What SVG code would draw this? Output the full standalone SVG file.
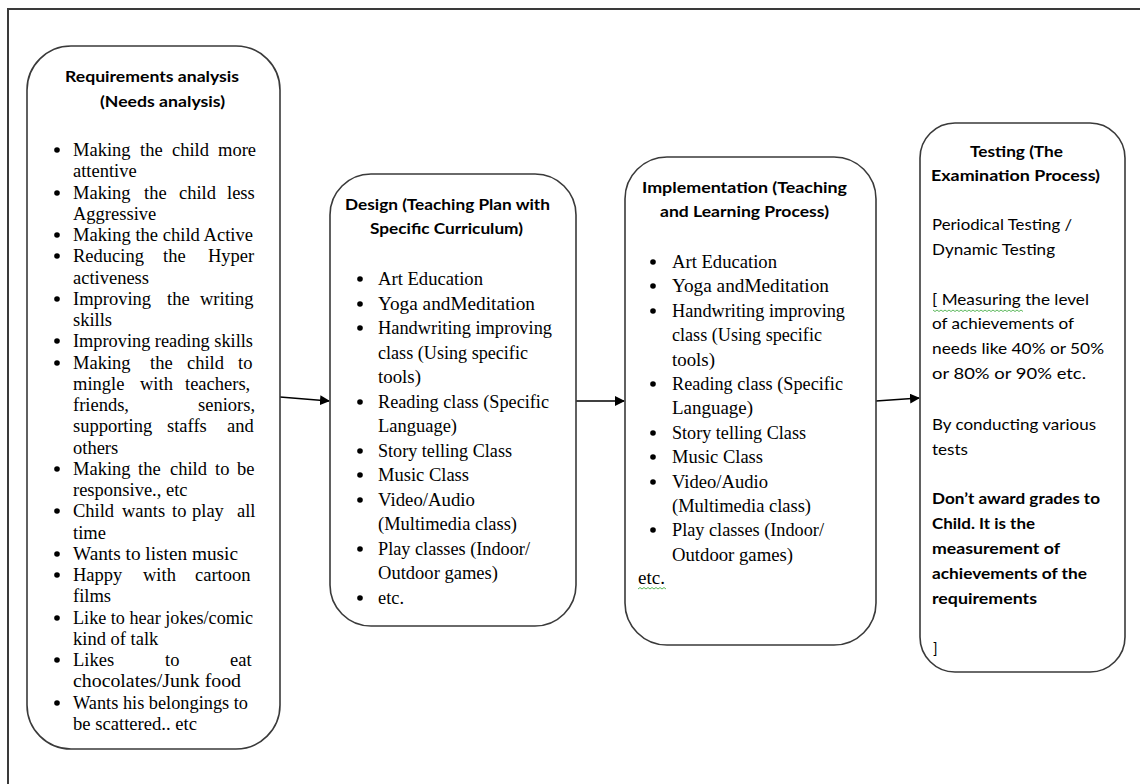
<svg xmlns="http://www.w3.org/2000/svg" width="1140" height="784" viewBox="0 0 1140 784">
<style>
.box{fill:#fff;stroke:#3a3a3a;stroke-width:1.6}
.hd{font-family:Lato,"Liberation Sans",sans-serif;font-weight:bold;font-size:15px;fill:#000}
.cb{font-family:Lato,"Liberation Sans",sans-serif;font-size:15px;fill:#000}
.cbb{font-family:Lato,"Liberation Sans",sans-serif;font-weight:bold;font-size:15px;fill:#000}
.tm{font-family:"Liberation Serif","Times New Roman",serif;font-size:18.5px;fill:#000}
.bl{fill:#000}
.conn{stroke:#000;stroke-width:1.6;fill:none}
.wavy{stroke:#5cb85c;stroke-width:1;fill:none}
</style>
<defs>
<marker id="ah" markerWidth="10" markerHeight="10" refX="9" refY="5" orient="auto" markerUnits="userSpaceOnUse" viewBox="0 0 10 10">
<path d="M0,0 L10,5 L0,10 Z" fill="#000"/>
</marker>
</defs>
<rect width="1140" height="784" fill="#fff"/>
<rect x="8" y="9" width="1150" height="800" fill="none" stroke="#3a3a3a" stroke-width="2"/>

<g id="connectors">
<line class="conn" x1="280" y1="397" x2="329" y2="401" marker-end="url(#ah)"/>
<line class="conn" x1="576" y1="401" x2="624" y2="401" marker-end="url(#ah)"/>
<line class="conn" x1="876" y1="401" x2="919" y2="398" marker-end="url(#ah)"/>
</g>

<g id="node-requirements">
<rect class="box" x="27" y="46" width="253" height="703" rx="44" ry="44"/>
<text class="hd" x="65" y="82" textLength="174" lengthAdjust="spacingAndGlyphs">Requirements analysis</text>
<text class="hd" x="100" y="107" textLength="125" lengthAdjust="spacingAndGlyphs">(Needs analysis)</text>
<g class="bl">
<circle cx="57" cy="150" r="2.8"/><circle cx="57" cy="193" r="2.8"/><circle cx="57" cy="235" r="2.8"/>
<circle cx="57" cy="256" r="2.8"/><circle cx="57" cy="299" r="2.8"/><circle cx="57" cy="341" r="2.8"/>
<circle cx="57" cy="363" r="2.8"/><circle cx="57" cy="469" r="2.8"/><circle cx="57" cy="511" r="2.8"/>
<circle cx="57" cy="554" r="2.8"/><circle cx="57" cy="575" r="2.8"/><circle cx="57" cy="618" r="2.8"/>
<circle cx="57" cy="660" r="2.8"/><circle cx="57" cy="703" r="2.8"/>
</g>
<text class="tm" y="156"><tspan x="73">Making</tspan><tspan x="140">the</tspan><tspan x="172">child</tspan><tspan x="218">more</tspan></text>
<text class="tm" x="73" y="177">attentive</text>
<text class="tm" y="199"><tspan x="73">Making</tspan><tspan x="144">the</tspan><tspan x="179">child</tspan><tspan x="227">less</tspan></text>
<text class="tm" x="73" y="220">Aggressive</text>
<text class="tm" x="73" y="241" textLength="180" lengthAdjust="spacingAndGlyphs">Making the child Active</text>
<text class="tm" y="262"><tspan x="73">Reducing</tspan><tspan x="163">the</tspan><tspan x="208">Hyper</tspan></text>
<text class="tm" x="73" y="284">activeness</text>
<text class="tm" y="305"><tspan x="73">Improving</tspan><tspan x="167">the</tspan><tspan x="200">writing</tspan></text>
<text class="tm" x="73" y="326">skills</text>
<text class="tm" x="73" y="347" textLength="180" lengthAdjust="spacingAndGlyphs">Improving reading skills</text>
<text class="tm" y="369"><tspan x="73">Making</tspan><tspan x="150">the</tspan><tspan x="187">child</tspan><tspan x="238">to</tspan></text>
<text class="tm" y="390"><tspan x="73">mingle</tspan><tspan x="140">with</tspan><tspan x="185">teachers,</tspan></text>
<text class="tm" y="411"><tspan x="73">friends,</tspan><tspan x="198">seniors,</tspan></text>
<text class="tm" y="432"><tspan x="73">supporting</tspan><tspan x="167">staffs</tspan><tspan x="227">and</tspan></text>
<text class="tm" x="73" y="454">others</text>
<text class="tm" y="475"><tspan x="73">Making</tspan><tspan x="138">the</tspan><tspan x="170">child</tspan><tspan x="215">to</tspan><tspan x="237">be</tspan></text>
<text class="tm" x="73" y="496">responsive., etc</text>
<text class="tm" y="517"><tspan x="73">Child</tspan><tspan x="122">wants</tspan><tspan x="172">to</tspan><tspan x="192">play</tspan><tspan x="237">all</tspan></text>
<text class="tm" x="73" y="539">time</text>
<text class="tm" x="73" y="560" textLength="165" lengthAdjust="spacingAndGlyphs">Wants to listen music</text>
<text class="tm" y="581"><tspan x="73">Happy</tspan><tspan x="143">with</tspan><tspan x="195">cartoon</tspan></text>
<text class="tm" x="73" y="602">films</text>
<text class="tm" x="73" y="624" textLength="180" lengthAdjust="spacingAndGlyphs">Like to hear jokes/comic</text>
<text class="tm" x="73" y="645">kind of talk</text>
<text class="tm" y="666"><tspan x="73">Likes</tspan><tspan x="165">to</tspan><tspan x="230">eat</tspan></text>
<text class="tm" x="73" y="687" textLength="168" lengthAdjust="spacingAndGlyphs">chocolates/Junk food</text>
<text class="tm" x="73" y="709" textLength="175" lengthAdjust="spacingAndGlyphs">Wants his belongings to</text>
<text class="tm" x="73" y="730" textLength="124" lengthAdjust="spacingAndGlyphs">be scattered.. etc</text>
</g>

<g id="node-design">
<rect class="box" x="330" y="174" width="246" height="452" rx="41" ry="41"/>
<text class="hd" x="345" y="210" textLength="205" lengthAdjust="spacingAndGlyphs">Design (Teaching Plan with</text>
<text class="hd" x="370" y="234" textLength="153" lengthAdjust="spacingAndGlyphs">Specific Curriculum)</text>
<g class="bl">
<circle cx="360" cy="279" r="2.8"/><circle cx="360" cy="304" r="2.8"/><circle cx="360" cy="328" r="2.8"/>
<circle cx="360" cy="402" r="2.8"/><circle cx="360" cy="451" r="2.8"/><circle cx="360" cy="475" r="2.8"/>
<circle cx="360" cy="500" r="2.8"/><circle cx="360" cy="549" r="2.8"/><circle cx="360" cy="598" r="2.8"/>
</g>
<text class="tm" x="378" y="285" textLength="105" lengthAdjust="spacingAndGlyphs">Art Education</text>
<text class="tm" x="378" y="310" textLength="157" lengthAdjust="spacingAndGlyphs">Yoga andMeditation</text>
<text class="tm" x="378" y="334" textLength="174" lengthAdjust="spacingAndGlyphs">Handwriting improving</text>
<text class="tm" x="378" y="359" textLength="150" lengthAdjust="spacingAndGlyphs">class (Using specific</text>
<text class="tm" x="378" y="383" textLength="43" lengthAdjust="spacingAndGlyphs">tools)</text>
<text class="tm" x="378" y="408" textLength="171" lengthAdjust="spacingAndGlyphs">Reading class (Specific</text>
<text class="tm" x="378" y="432" textLength="79" lengthAdjust="spacingAndGlyphs">Language)</text>
<text class="tm" x="378" y="457" textLength="134" lengthAdjust="spacingAndGlyphs">Story telling Class</text>
<text class="tm" x="378" y="481" textLength="91" lengthAdjust="spacingAndGlyphs">Music Class</text>
<text class="tm" x="378" y="506" textLength="97" lengthAdjust="spacingAndGlyphs">Video/Audio</text>
<text class="tm" x="378" y="530" textLength="139" lengthAdjust="spacingAndGlyphs">(Multimedia class)</text>
<text class="tm" x="378" y="555" textLength="152" lengthAdjust="spacingAndGlyphs">Play classes (Indoor/</text>
<text class="tm" x="378" y="579" textLength="120" lengthAdjust="spacingAndGlyphs">Outdoor games)</text>
<text class="tm" x="378" y="604" textLength="26" lengthAdjust="spacingAndGlyphs">etc.</text>
</g>

<g id="node-implementation">
<rect class="box" x="625" y="157" width="251" height="488" rx="42" ry="42"/>
<text class="hd" x="642" y="193" textLength="205" lengthAdjust="spacingAndGlyphs">Implementation (Teaching</text>
<text class="hd" x="660" y="217" textLength="169" lengthAdjust="spacingAndGlyphs">and Learning Process)</text>
<g class="bl">
<circle cx="653" cy="262" r="2.8"/><circle cx="653" cy="286" r="2.8"/><circle cx="653" cy="311" r="2.8"/>
<circle cx="653" cy="384" r="2.8"/><circle cx="653" cy="433" r="2.8"/><circle cx="653" cy="457" r="2.8"/>
<circle cx="653" cy="482" r="2.8"/><circle cx="653" cy="530" r="2.8"/>
</g>
<text class="tm" x="672" y="268" textLength="105" lengthAdjust="spacingAndGlyphs">Art Education</text>
<text class="tm" x="672" y="292" textLength="157" lengthAdjust="spacingAndGlyphs">Yoga andMeditation</text>
<text class="tm" x="672" y="317" textLength="173" lengthAdjust="spacingAndGlyphs">Handwriting improving</text>
<text class="tm" x="672" y="341" textLength="150" lengthAdjust="spacingAndGlyphs">class (Using specific</text>
<text class="tm" x="672" y="366" textLength="43" lengthAdjust="spacingAndGlyphs">tools)</text>
<text class="tm" x="672" y="390" textLength="171" lengthAdjust="spacingAndGlyphs">Reading class (Specific</text>
<text class="tm" x="672" y="414" textLength="81" lengthAdjust="spacingAndGlyphs">Language)</text>
<text class="tm" x="672" y="439" textLength="134" lengthAdjust="spacingAndGlyphs">Story telling Class</text>
<text class="tm" x="672" y="463" textLength="91" lengthAdjust="spacingAndGlyphs">Music Class</text>
<text class="tm" x="672" y="488" textLength="96" lengthAdjust="spacingAndGlyphs">Video/Audio</text>
<text class="tm" x="672" y="512" textLength="139" lengthAdjust="spacingAndGlyphs">(Multimedia class)</text>
<text class="tm" x="672" y="536" textLength="152" lengthAdjust="spacingAndGlyphs">Play classes (Indoor/</text>
<text class="tm" x="672" y="561" textLength="121" lengthAdjust="spacingAndGlyphs">Outdoor games)</text>
<text class="tm" x="638" y="584" textLength="27" lengthAdjust="spacingAndGlyphs">etc.</text>
<path class="wavy" d="M638,589 l2,-1.5 l2,1.5 l2,-1.5 l2,1.5 l2,-1.5 l2,1.5 l2,-1.5 l2,1.5 l2,-1.5 l2,1.5 l2,-1.5 l2,1.5 l2,-1.5 l2,1.5"/>
</g>

<g id="node-testing">
<rect class="box" x="920" y="123" width="205" height="549" rx="35" ry="35"/>
<text class="hd" x="970" y="157" textLength="93" lengthAdjust="spacingAndGlyphs">Testing (The</text>
<text class="hd" x="931" y="181" textLength="169" lengthAdjust="spacingAndGlyphs">Examination Process)</text>
<text class="cb" x="932" y="230" textLength="140" lengthAdjust="spacingAndGlyphs">Periodical Testing /</text>
<text class="cb" x="932" y="255" textLength="123" lengthAdjust="spacingAndGlyphs">Dynamic Testing</text>
<text class="cb" x="932" y="305" textLength="157" lengthAdjust="spacingAndGlyphs">[ Measuring the level</text>
<path class="wavy" d="M933,310 l2,1.5 l2,-1.5 l2,1.5 l2,-1.5 l2,1.5 l2,-1.5 l2,1.5 l2,-1.5 l2,1.5 l2,-1.5 l2,1.5 l2,-1.5 l2,1.5 l2,-1.5 l2,1.5 l2,-1.5 l2,1.5 l2,-1.5 l2,1.5 l2,-1.5 l2,1.5 l2,-1.5 l2,1.5 l2,-1.5 l2,1.5 l2,-1.5 l2,1.5 l2,-1.5 l2,1.5 l2,-1.5 l2,1.5 l2,-1.5 l2,1.5 l2,-1.5 l2,1.5 l2,-1.5 l2,1.5 l2,-1.5 l2,1.5 l2,-1.5 l2,1.5 l2,-1.5 l2,1.5 l2,-1.5 l2,1.5"/>
<text class="cb" x="932" y="329" textLength="142" lengthAdjust="spacingAndGlyphs">of achievements of</text>
<text class="cb" x="932" y="354" textLength="172" lengthAdjust="spacingAndGlyphs">needs like 40% or 50%</text>
<text class="cb" x="932" y="379" textLength="154" lengthAdjust="spacingAndGlyphs">or 80% or 90% etc.</text>
<text class="cb" x="932" y="430" textLength="164" lengthAdjust="spacingAndGlyphs">By conducting various</text>
<text class="cb" x="932" y="455" textLength="36" lengthAdjust="spacingAndGlyphs">tests</text>
<text class="cbb" x="932" y="504" textLength="168" lengthAdjust="spacingAndGlyphs">Don’t award grades to</text>
<text class="cbb" x="932" y="529" textLength="103" lengthAdjust="spacingAndGlyphs">Child. It is the</text>
<text class="cbb" x="932" y="554" textLength="128" lengthAdjust="spacingAndGlyphs">measurement of</text>
<text class="cbb" x="932" y="579" textLength="155" lengthAdjust="spacingAndGlyphs">achievements of the</text>
<text class="cbb" x="932" y="604" textLength="105" lengthAdjust="spacingAndGlyphs">requirements</text>
<text class="cb" x="933" y="654">]</text>
</g>
</svg>
